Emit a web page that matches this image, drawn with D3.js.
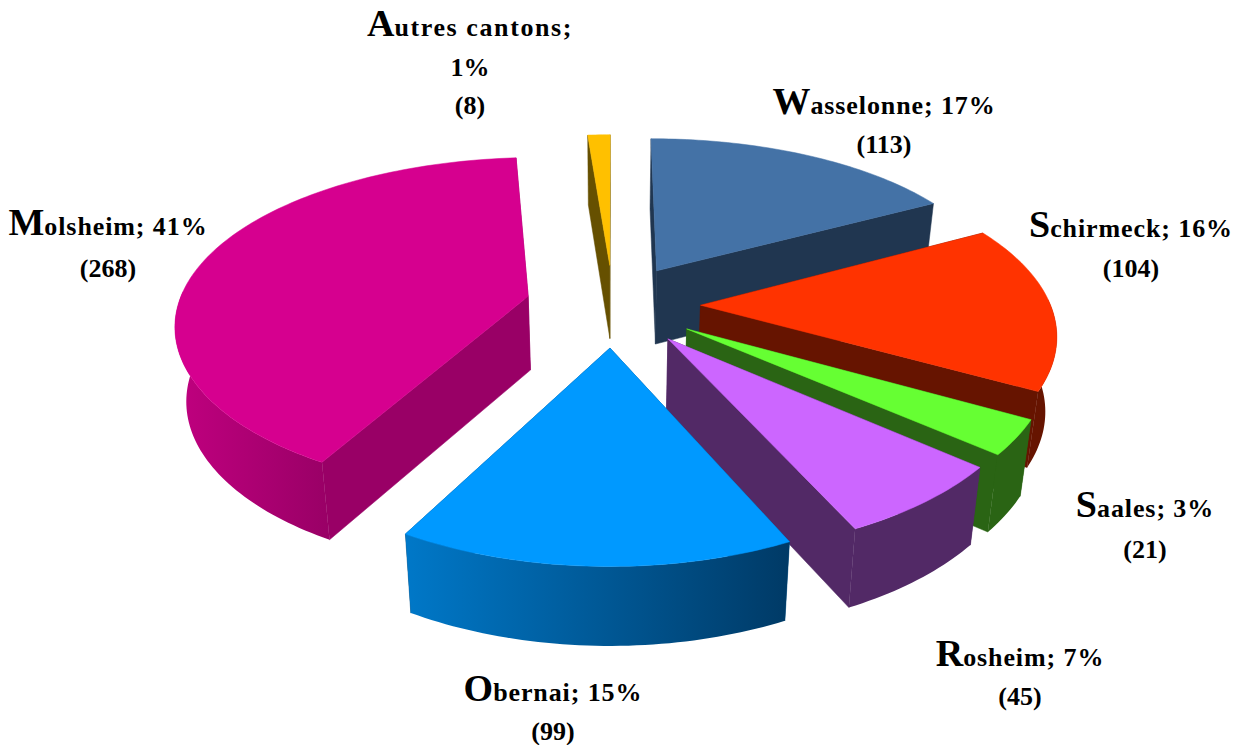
<!DOCTYPE html>
<html><head><meta charset="utf-8">
<script src="https://cdn.jsdelivr.net/npm/d3@7/dist/d3.min.js"></script>
<style>html,body{margin:0;background:#fff}svg{display:block}</style></head>
<body><svg id="c" width="1243" height="745"></svg>
<script>
const categories=["Wasselonne","Schirmeck","Saales","Rosheim","Obernai","Molsheim","Autres cantons"];
const counts=[113,104,21,45,99,268,8];
const percents=[17,16,3,7,15,41,1];
const topColors=["#4472a6","#ff3300","#66ff33","#cc66ff","#0099ff","#d6008f","#ffc000"];
const sideColors=["#203650","#661400","#2a6414","#522966","#004c80","#990066","#665000"];
const wallLight=["#203650","#661400","#2a6414","#522966","#0078c8","#c0007f","#665000"];
const wallDark=["#203650","#661400","#2a6414","#522966","#003a66","#990066","#665000"];
const drawOrder=["Autres cantons","Molsheim","Wasselonne","Schirmeck","Saales","Rosheim","Obernai"];

// layout
const cx=613,cy=305,A=350,B=165,K=0.169,KX=0.15,EXPLODE=0.25,DEPTH=74,DEPTH_POW=0.3,TAPER=0.974;
const labelLayout={
 "Wasselonne":[884,[105,144]],
 "Schirmeck":[1131,[228,268]],
 "Saales":[1145,[508,549]],
 "Rosheim":[1020,[657,696]],
 "Obernai":[553,[692,731]],
 "Molsheim":[108,[226,268]],
 "Autres cantons":[470,[27,67,105]]
};

const svg=d3.select("#c");
const defs=svg.append("defs");
const pie=d3.pie().sort(null).value(d=>d.v)(categories.map((n,i)=>({n,v:counts[i],i})));

function topPt(X,Y){const s=1/(1-K*Y),sx=1/(1-KX*Y);return [cx+A*X*sx,cy+B*Y*s];}
function botPt(X,Y){const s=1/(1-K*Y),sx=1/(1-KX*Y);return [cx+A*X*sx*TAPER,cy+B*Y*s+DEPTH*Math.pow(s,DEPTH_POW)];}
const line=d3.line();

pie.forEach(p=>{
  const i=p.data.i;
  const g=defs.append("linearGradient").attr("id","w"+i).attr("x1",0).attr("x2",1).attr("y1",0).attr("y2",0);
  g.append("stop").attr("offset",0).attr("stop-color",wallLight[i]);
  g.append("stop").attr("offset",1).attr("stop-color",wallDark[i]);
});

const bySlice=new Map(pie.map(p=>[p.data.n,p]));
drawOrder.forEach(name=>{
  const p=bySlice.get(name),i=p.data.i;
  const mid=(p.startAngle+p.endAngle)/2;
  const ox=EXPLODE*Math.sin(mid),oy=-EXPLODE*Math.cos(mid);
  const pt=a=>[ox+Math.sin(a),oy-Math.cos(a)];
  const n=Math.max(6,Math.ceil((p.endAngle-p.startAngle)/0.02));
  const angles=d3.range(n+1).map(k=>p.startAngle+(p.endAngle-p.startAngle)*k/n);
  const g=svg.append("g").attr("class","slice").attr("data-name",name);
  // radial faces, far one first
  const faces=[p.startAngle,p.endAngle].map(a=>({a,y:pt(a)[1]})).sort((u,v)=>u.y-v.y);
  faces.forEach(f=>{
    const e=pt(f.a);
    g.append("path").attr("fill",sideColors[i]).attr("stroke",sideColors[i]).attr("stroke-width",0.5)
     .attr("d",line([topPt(ox,oy),topPt(e[0],e[1]),botPt(e[0],e[1]),botPt(ox,oy)])+"Z");
  });
  // outer wall, only where it faces the viewer
  const front=angles.filter(a=>Math.cos(a)<0.04);
  if(front.length>1){
    const upper=front.map(a=>topPt(...pt(a)));
    const lower=front.map(a=>botPt(...pt(a))).reverse();
    g.append("path").attr("fill",`url(#w${i})`).attr("d",line(upper.concat(lower))+"Z");
  }
  // top face
  g.append("path").attr("fill",topColors[i]).attr("stroke",topColors[i]).attr("stroke-width",0.5)
   .attr("d",line([topPt(ox,oy)].concat(angles.map(a=>topPt(...pt(a)))))+"Z");
});

// labels
const font="'Liberation Serif',serif";
categories.forEach((name,i)=>{
  const [x,ys]=labelLayout[name];
  const t=svg.append("text").attr("text-anchor","middle").attr("font-family",font)
     .attr("font-weight","bold").attr("fill","#000").attr("font-size",26);
  const pct=percents[i]+"%", par="("+counts[i]+")";
  const l1=t.append("tspan").attr("x",x).attr("y",ys[0]+9);
  l1.append("tspan").attr("font-size",38).text(name[0]);
  if(ys.length===3){
    l1.append("tspan").attr("letter-spacing",1.6).text(name.slice(1)+";");
    t.append("tspan").attr("x",x).attr("y",ys[1]+9).text(pct);
    t.append("tspan").attr("x",x).attr("y",ys[2]+9).text(par);
  }else{
    l1.append("tspan").attr("letter-spacing",0.9).text(name.slice(1)+"; "+pct);
    t.append("tspan").attr("x",x).attr("y",ys[1]+9).text(par);
  }
});
</script></body></html>
